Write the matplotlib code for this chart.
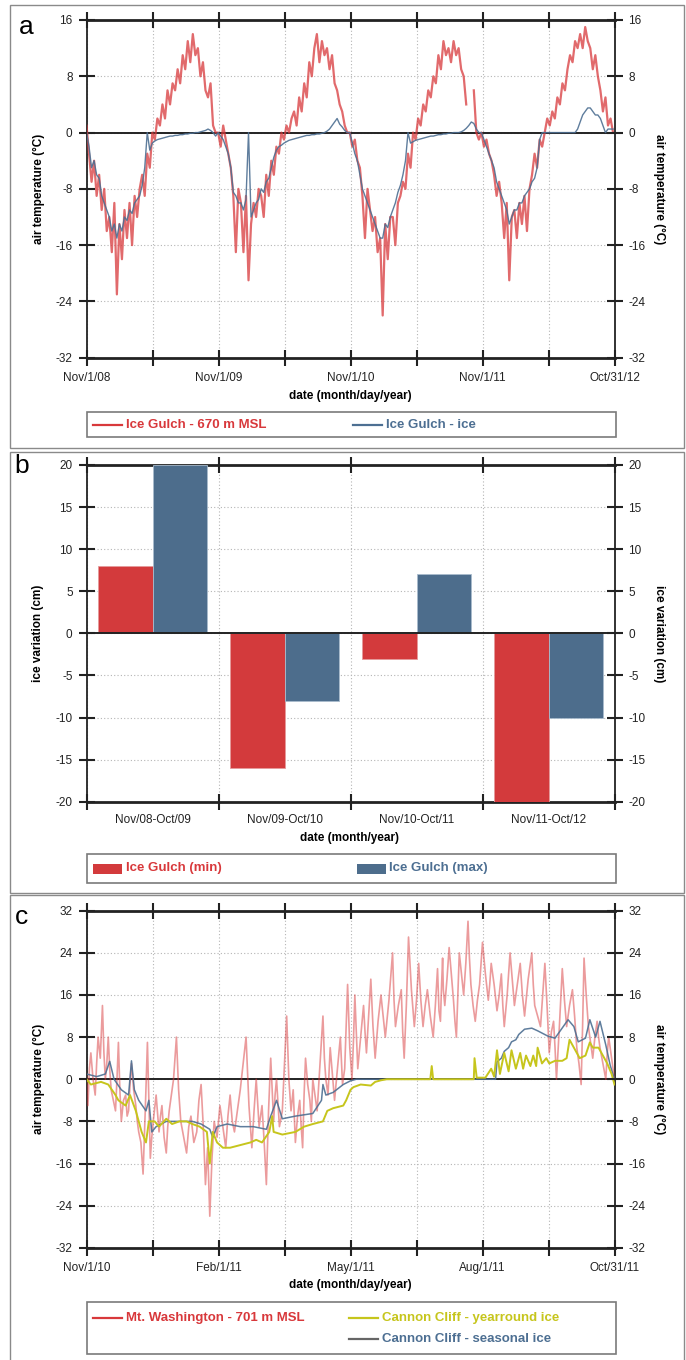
import numpy as np
import pandas as pd
import matplotlib
matplotlib.use('Agg')
import matplotlib.pyplot as plt
import matplotlib.dates as mdates
from datetime import datetime
from matplotlib.patches import Rectangle
from matplotlib.lines import Line2D

plt.rcParams['font.family'] = ['Liberation Sans', 'DejaVu Sans']

# ---------------- datos ----------------
# panel a: valores semanales desde 1/nov/2008
red_a = [
    # nov08 - oct09
    1, -3, -7, -4, -9, -6, -11, -8, -14, -12, -17, -10, -23, -13, -18, -11, -15,
    -10, -16, -9, -12, -8, -6, -9, -3, -5, 0, -1, 2, 1, 4, 2, 6, 4, 7,
    6, 9, 7, 11, 9, 13, 10, 14, 11, 12, 8, 10, 6, 5, 7, 1, 0,
    # nov09 - oct10
    0, -2, 1, -1, -3, -5, -9, -17, -8, -10, -17, -9, -21, -13, -10, -12, -8,
    -9, -12, -6, -9, -4, -6, -2, -3, 0, -1, 1, 0, 2, 3, 1, 5, 3,
    7, 5, 10, 8, 12, 14, 10, 13, 11, 12, 9, 11, 7, 6, 4, 3, 1, 0,
    # nov10 - oct11
    0, -2, -1, -4, -5, -9, -15, -8, -11, -14, -12, -17, -15, -26, -13, -18, -12,
    -12, -16, -10, -9, -7, -8, -3, -5, 0, -1, 2, 1, 4, 3, 6, 5, 8, 7,
    11, 9, 13, 11, 12, 10, 13, 11, 12, 9, 8, 4, np.nan, np.nan, 6, 0, -1,
    # nov11 - oct12
    0, -2, -1, -3, -4, -6, -9, -7, -10, -15, -10, -21, -12, -11, -15, -10, -13,
    -9, -14, -8, -6, -3, -5, -1, -2, 0, 2, 1, 3, 2, 5, 4, 7, 6,
    9, 11, 10, 13, 12, 14, 12, 15, 13, 12, 9, 11, 8, 6, 3, 5, 1, 2, 0,
]
ice_a = [
    0, -2, -5, -4, -6, -6.5, -9, -10, -11, -12, -14, -13, -15, -13, -14, -12, -12.5,
    -11, -11.5, -10, -9.5, -9, -7.5, -5, 0, -2.5, -1.5, -1.2, -1, -0.9,
    -0.8, -0.7, -0.6, -0.5, -0.5, -0.4, -0.4, -0.3, -0.3,
    -0.2, -0.2, -0.1, -0.1, 0, 0, 0.1, 0.2, 0.3, 0.5, 0.3, 0, -0.5,
    0, -0.5, -1, -2, -3, -5, -8.5, -9, -10, -10, -11, -9.5, 0, -12, -11, -10, -9.5,
    -8, -8.5, -7, -6.5, -5, -3.5, -2.5, -2, -1.8, -1.5, -1.3, -1.1, -1,
    -0.9, -0.8, -0.7, -0.6, -0.5, -0.4, -0.4, -0.3, -0.3,
    -0.2, -0.2, -0.1, 0, 0.2, 0.5, 1, 1.5, 2, 1.2, 0.8, 0.3, 0,
    0, -1.5, -3, -4, -6, -8, -9, -10, -11, -12, -13, -14, -15, -15, -13, -13.5, -12,
    -11, -10, -8.5, -7.5, -6, -4, 0, -1.5, -1.3, -1.1, -1, -0.9, -0.8,
    -0.7, -0.6, -0.5, -0.5, -0.4, -0.3, -0.3, -0.2, -0.2,
    -0.1, -0.1, 0, 0, 0, 0.1, 0.3, 0.6, 1.0, 1.5, 1.3, 0.5, 0,
    0, -1, -2, -3, -4, -5, -7, -8, -9, -10, -11, -13, -12, -11, -11, -10, -10,
    -9, -8.5, -8, -7, -6.5, -5, -1, 0, 0, 0, 0, 0, 0, 0, 0, 0, 0,
    0, 0, 0, 0, 0.5, 1.5, 2.5, 3, 3.5, 3.5, 3, 2.5, 2.5, 2, 1, 0, 0.5, 0.5, 0.5,
]

# panel b
periodos = ['Nov/08-Oct/09', 'Nov/09-Oct/10', 'Nov/10-Oct/11', 'Nov/11-Oct/12']
ice_min = [8, -16, -3, -20]
ice_max = [20, -8, 7, -10]

# panel c: (dia desde 1/nov/2010, temperatura)
mt_washington = [
    (0, 1), (1, -5), (2, 2), (3, 5), (4.5, 0), (6, -3), (7, 3), (8, 8), (9.5, 4), (11, 14),
    (12, 5), (13, 0), (14, 3), (15, 8), (16, 2), (17, -2), (18.5, -4), (20, -6), (21, 0), (22, 7),
    (23, -2), (24, -8), (25.5, -4), (27, -3), (28, -7), (29, -6), (30, -1), (31, 3), (32.5, -2), (34, -5),
    (35, -8), (36, -10), (37.5, -12), (39, -18), (40.5, -6), (42, 7), (43, -4), (44, -15), (45, -11), (46, -8),
    (48, -3), (50, -10), (51, -7), (52, -5), (53.5, -11), (55, -14), (56, -9), (57, -6), (58.5, -3), (60, 0),
    (61, 4), (62, 8), (63.5, -2), (65, -8), (67, -11), (69, -14), (70.5, -9), (72, -7), (74, -12), (76, -10),
    (77.5, -4), (79, -1), (80.5, -9), (82, -20), (83.5, -13), (85, -26), (86.5, -15), (88, -8), (90, -11), (92, -5),
    (94, -9), (96, -13), (97.5, -7), (99, -3), (100.5, -8), (102, -10), (104, -6), (106, -2), (108, 3), (110, 8),
    (112, -5), (114, -13), (115.5, -6), (117, 0), (119, -9),
    (121, -5), (122.5, -12), (124, -20), (125.5, -6), (127, 4), (128, -2), (129, -8), (130, -3), (131, 0), (133, -9),
    (135, -6), (136.5, 3), (138, 12), (139.5, 0), (141, -6), (142.5, -2), (144, -12), (145.5, -7), (147, -4), (148, -9),
    (149, -13), (150, -3), (151, 4), (152.5, -1), (154, -4), (155, -8), (156, 0), (157.5, -3), (159, -6), (161, 3),
    (163, 12), (164, 4), (165, 0), (166.5, -3), (168, 6), (169.5, 1), (171, -4), (173, 2), (175, 8), (176.5, -1),
    (178, 2), (179, 10), (180, 18), (181.5, 6), (183, 0), (184, 7), (185, 16), (186, 9), (187, 2), (189, 8),
    (191, 14), (192, 9), (193, 5), (194.5, 12), (196, 19), (197.5, 10), (199, 4), (201, 11), (203, 16), (204.5, 12),
    (206, 8), (208.5, 15), (211, 24), (212, 15), (213, 10), (215, 14), (217, 17), (218, 9), (219, 4), (220.5, 14),
    (222, 27), (224, 17), (226, 10), (227.5, 15), (229, 22), (230.5, 15), (232, 10), (233.5, 14), (235, 17), (237, 12),
    (239, 8), (240.5, 14),
    (242, 21), (243, 13), (244, 11), (244.8, 18), (245.5, 23), (246, 17), (247, 14), (248.5, 19), (250, 25), (251.5, 20),
    (253, 15), (254, 11), (255, 8), (256, 16), (257, 24), (258.5, 20), (260, 16), (261.5, 22), (263, 30), (264, 23),
    (265, 18), (266.5, 14), (268, 11), (269.5, 15), (271, 18), (272, 22), (273, 26), (275, 20), (277, 15), (278, 18),
    (279, 22), (281, 18), (283, 13), (284.5, 16), (286, 20), (287, 14), (288, 10), (290, 16), (292, 24), (293.5, 19),
    (295, 14), (297, 18), (299, 22), (300.5, 16), (302, 12), (304.5, 19), (307, 24), (308, 18), (309, 14), (311, 12),
    (313, 10), (314.5, 16), (316, 22), (317.5, 14), (319, 5), (320.5, 9), (322, 11), (323, 6), (324, 0), (326, 10),
    (328, 21), (329.5, 15), (331, 10), (333, 14), (335, 17), (336.5, 12), (338, 6), (339.5, 3), (341, -1), (342, 10),
    (343, 23), (344.5, 16), (346, 10), (347.5, 7), (349, 4), (350.5, 8), (352, 11), (353, 8), (354, 6), (356, 3),
    (358, 0), (359, 5), (360, 8), (361, 6), (362, 4), (363, 2), (364, 0),
]
cannon_yearround = [
    (0, 0), (3, -1), (10, -0.5), (15, -1), (20, -3), (22, -4), (27, -5), (30, -3), (34, -6), (38, -10),
    (41, -12), (43, -8), (47, -8), (50, -9), (55, -7.5), (59, -8.5), (64, -8), (69, -8), (73, -8.5), (78, -9),
    (83, -10), (85, -16), (87, -10), (90, -12), (94, -13), (99, -13), (106, -12.5), (113, -12), (117, -11.5), (121, -12),
    (126, -10), (128, -7), (129, -10), (135, -10.5), (144, -10), (150, -9), (156, -8.5), (163, -8), (166, -6), (170, -5.5),
    (177, -5), (179, -4), (182, -2), (184, -1.5), (189, -1), (196, -1.2), (199, -0.5), (203, -0.2), (207, 0), (237, 0),
    (238, 2.5), (239, 0), (267, 0), (267.5, 4), (269, 0.3), (275, 0.3), (279, 2), (281, 0.5), (283, 5.5), (285, 1),
    (288, 5), (291, 1.5), (293, 5.5), (296, 2), (299, 5), (301, 2), (303, 4.5), (306, 2.5), (308, 4.5), (310, 2.5),
    (311, 6), (314, 3), (317, 4), (319, 3), (323, 3.5), (328, 3.5), (331, 4), (333, 7.5), (336, 6), (338, 5),
    (340, 4), (344, 4.5), (347, 7), (349, 6), (353, 6), (355, 5), (359, 3), (362, 1), (364, -1),
]
cannon_seasonal = [
    (0, 1), (7, 0.5), (13, 1), (16, 3.4), (19, 0), (24, -2), (29, -3), (31, 3.5), (33, -2), (36, -4),
    (41, -6), (43, -4), (45, -10), (48, -9), (55, -8), (64, -8), (73, -8), (79, -8.5), (85, -9.5), (87, -11),
    (90, -9), (97, -8.5), (106, -9), (115, -9), (124, -9.5), (127, -7), (131, -4), (135, -7.5), (144, -7), (156, -6.5),
    (162, -4), (163, -1), (165, -3), (170, -2.5), (177, -1), (182, -0.3), (186, 0), (282, 0), (283, 3.3), (286, 4),
    (288, 5.3), (291, 6), (293, 7.1), (296, 7.5), (298, 8.5), (302, 9.5), (307, 9.7), (311, 9.2), (318, 8.2), (323, 7.8),
    (332, 11.3), (336, 10), (339, 7.1), (344, 7.8), (347, 11.3), (351, 8), (354, 11), (358, 6.5), (361, 2.7), (364, 0),
]

W, H = 686, 1360
ROJO = '#d8383b'
AZUL = '#4d6f92'
AMAR = '#c6c51c'

fig = plt.figure(figsize=(W / 100, H / 100), dpi=100)


def ejes(l, t, r, b):
    return fig.add_axes([l / W, 1 - b / H, (r - l) / W, (b - t) / H])


def texto(x, y, s, **kw):
    fig.text(x / W, 1 - y / H, s, ha='center', va='center', **kw)


def marco(x0, y0, x1, y1, color='#8a8a8a', lw=1.0):
    fig.add_artist(Rectangle((x0 / W, 1 - y1 / H), (x1 - x0) / W, (y1 - y0) / H,
                             transform=fig.transFigure, fill=False, ec=color, lw=lw))


def leyenda_linea(x, y, color, label, tcolor, patch=False):
    if patch:
        fig.add_artist(Rectangle((x / W, 1 - (y + 5) / H), 29 / W, 10 / H,
                                 transform=fig.transFigure, fc=color, ec='none'))
    else:
        fig.add_artist(Line2D([x / W, (x + 29) / W], [1 - y / H] * 2, color=color, lw=1.6,
                              transform=fig.transFigure))
    fig.text((x + 33) / W, 1 - y / H, label, ha='left', va='center', color=tcolor,
             fontsize=9.5, fontweight='bold')


def estilo(ax, ylo, yhi, ystep, xticks, xlabels, ylabel, ycenter):
    yt = np.arange(ylo, yhi + ystep / 2, ystep)
    ax.set_ylim(ylo, yhi)
    ax.set_yticks(yt)
    ax.set_yticklabels([f'{v:g}' for v in yt])
    ax.set_xticks(xticks)
    ax.set_xticklabels(xlabels)
    ax.grid(True, color='#b5b5b5', lw=0.8, ls=(0, (1, 2)))
    ax.set_axisbelow(True)
    ax.axhline(0, color='#222222', lw=1.4, zorder=4)
    ax.tick_params(direction='inout', length=12, width=1.5, color='#222222', labelsize=8.5,
                   top=True, pad=4, labelcolor='#222222')
    for s in ['top', 'bottom']:
        ax.spines[s].set_linewidth(2.0)
        ax.spines[s].set_color('#222222')
    for s in ['left', 'right']:
        ax.spines[s].set_linewidth(1.3)
        ax.spines[s].set_color('#222222')
    ax2 = ax.twinx()
    ax2.set_ylim(ylo, yhi)
    ax2.set_yticks(yt)
    ax2.set_yticklabels([f'{v:g}' for v in yt])
    ax2.tick_params(direction='inout', length=12, width=1.5, color='#222222', labelsize=8.5,
                    pad=4, labelcolor='#222222')
    for s in ax2.spines.values():
        s.set_visible(False)
    texto(38.5, ycenter, ylabel, rotation=90, fontsize=8.5, fontweight='bold')
    texto(659, ycenter, ylabel, rotation=-90, fontsize=8.5, fontweight='bold')


# ---------------- panel a ----------------
marco(10, 5, 684, 448)
texto(26, 27, 'a', fontsize=19)
ax = ejes(86.5, 20, 614.5, 357.7)
fechas_a = mdates.date2num(pd.date_range('2008-11-01', periods=len(red_a), freq='7D').to_pydatetime())
x0 = mdates.date2num(datetime(2008, 11, 1))
x1 = mdates.date2num(datetime(2012, 10, 31))
ax.plot(fechas_a, red_a, color=ROJO, lw=1.6, alpha=0.75, zorder=5)
ax.plot(fechas_a, ice_a, color=AZUL, lw=1.0, alpha=0.9, zorder=6)
ax.set_xlim(x0, x1)
estilo(ax, -32, 16, 8, np.linspace(x0, x1, 9),
       ['Nov/1/08', '', 'Nov/1/09', '', 'Nov/1/10', '', 'Nov/1/11', '', 'Oct/31/12'],
       'air temperature (°C)', (20 + 357.7) / 2)
texto(350, 396, 'date (month/day/year)', fontsize=8.5, fontweight='bold')
marco(86.5, 412, 615.5, 437, color='#7a7a7a', lw=1.2)
leyenda_linea(93, 425, ROJO, 'Ice Gulch - 670 m MSL', ROJO)
leyenda_linea(353, 425, AZUL, 'Ice Gulch - ice', AZUL)

# ---------------- panel b ----------------
marco(10, 452, 684, 893)
texto(22, 466, 'b', fontsize=19)
ax = ejes(86.5, 465, 614.5, 801.7)
pos = np.arange(len(periodos))
ax.bar(pos + 0.085, ice_min, width=0.415, align='edge', color='#d33a3c', ec='#e59a9b', lw=0.6, zorder=3)
ax.bar(pos + 0.5, ice_max, width=0.415, align='edge', color='#4d6d8c', ec='#a9bccd', lw=0.6, zorder=3)
ax.set_xlim(0, len(periodos))
estilo(ax, -20, 20, 5, np.arange(len(periodos) + 1), [''] * (len(periodos) + 1),
       'ice variation (cm)', (465 + 801.7) / 2)
ax.set_xticks(pos + 0.5, minor=True)
ax.set_xticklabels(periodos, minor=True)
ax.tick_params(axis='x', which='minor', length=0, labelsize=8.5, pad=9, labelcolor='#222222')
texto(350, 837.5, 'date (month/year)', fontsize=8.5, fontweight='bold')
marco(86.5, 854, 615.5, 883, color='#7a7a7a', lw=1.2)
leyenda_linea(93, 868.5, '#d33a3c', 'Ice Gulch (min)', ROJO, patch=True)
leyenda_linea(356.5, 868.5, '#4d6d8c', 'Ice Gulch (max)', AZUL, patch=True)

# ---------------- panel c ----------------
marco(10, 895, 684, 1362)
texto(22, 917, 'c', fontsize=19)
ax = ejes(86.5, 910.7, 614.5, 1247.8)
mw_d, mw_t = zip(*mt_washington)
cy_d, cy_t = zip(*cannon_yearround)
cs_d, cs_t = zip(*cannon_seasonal)
ax.plot(mw_d, mw_t, color=ROJO, lw=1.2, alpha=0.5, zorder=5)
ax.plot(cs_d, cs_t, color=AZUL, lw=1.1, alpha=0.9, zorder=6)
ax.plot(cy_d, cy_t, color=AMAR, lw=1.4, zorder=7)
ax.set_xlim(0, 364)
estilo(ax, -32, 32, 8, np.linspace(0, 364, 9),
       ['Nov/1/10', '', 'Feb/1/11', '', 'May/1/11', '', 'Aug/1/11', '', 'Oct/31/11'],
       'air temperature (°C)', (910.7 + 1247.8) / 2)
texto(350, 1285, 'date (month/day/year)', fontsize=8.5, fontweight='bold')
marco(86.5, 1302, 615.5, 1354, color='#7a7a7a', lw=1.2)
leyenda_linea(93, 1318, ROJO, 'Mt. Washington - 701 m MSL', ROJO)
leyenda_linea(349, 1318, AMAR, 'Cannon Cliff - yearround ice', AMAR)
leyenda_linea(349, 1339, '#666666', 'Cannon Cliff - seasonal ice', AZUL)

fig.savefig('out.png', dpi=100)
